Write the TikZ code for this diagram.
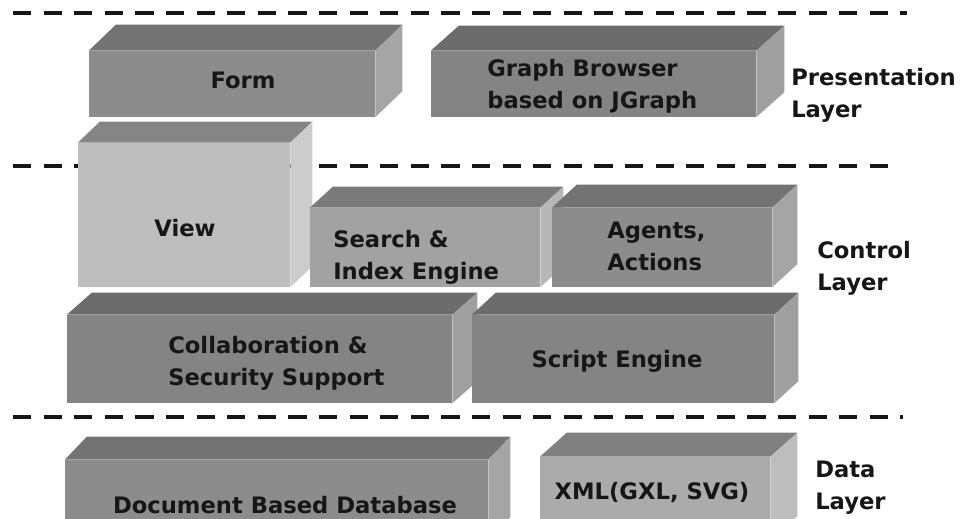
\documentclass[tikz,border=0pt]{standalone}
\usepackage{fontspec}
\setmainfont{DejaVu Sans}
\usetikzlibrary{fit}
\definecolor{ink}{RGB}{22,22,22}
\definecolor{slabgray}{RGB}{140,140,140}
\definecolor{darkslab}{RGB}{132,132,132}
\definecolor{searchgray}{RGB}{162,162,162}
\definecolor{xmlgray}{RGB}{171,171,171}
\definecolor{viewgray}{RGB}{190,190,190}

\begin{document}
\begin{tikzpicture}[x=0.75pt, y=-0.75pt,
    face/.style={rectangle, inner sep=0pt, draw=none},
    boxtext/.style={font=\fontsize{17}{24}\selectfont\bfseries, text=ink, align=left, inner sep=0pt},
    layertext/.style={boxtext, anchor=west},
    divider/.style={draw=ink, line width=2.5pt, dash pattern=on 13.7pt off 9.25pt}
]
\useasboundingbox (0,0) rectangle (974,518);
\clip (0,0) rectangle (974,518);

% Layer dividers
\coordinate (top1) at (13,13);   \coordinate (top2) at (907,13);
\coordinate (mid1) at (13,166);  \coordinate (mid2) at (888,166);
\coordinate (low1) at (13,417);  \coordinate (low2) at (903,417);
\draw[divider] (top1) -- (top2);
\draw[divider] (mid1) -- (mid2);
\draw[divider] (low1) -- (low2);

% Slabs: front face, then top and side
\foreach \b/\xa/\ya/\xb/\yb/\dx/\dy/\c/\t in {
    form/89/51/375/117/27/26/slabgray/82,
    graph/431/51/756/117/28/25/darkslab/82,
    view/78/143/290/287/22/21/viewgray/70,
    search/310/208/540/287/23/21/searchgray/76,
    agents/552/208/772/287/25/23/slabgray/82,
    collab/67/315/452/403/25/22/darkslab/82,
    script/472/315/774/403/24/22/darkslab/82,
    docdb/65/460/488/540/22/23/slabgray/82,
    xml/540/457/770/540/27/24/xmlgray/75} {
  \node[face, fill=\c, fit={(\xa,\ya) (\xb,\yb)}] (\b) {};
  \fill[\c!\t!black] (\b.north west) -- ++(\dx,-\dy) -- ([shift={(\dx,-\dy)}]\b.north east) -- (\b.north east) -- cycle;
  \fill[\c!78!white] (\b.north east) -- ++(\dx,-\dy) -- ([shift={(\dx,-\dy)}]\b.south east) -- (\b.south east) -- cycle;
}

% Presentation layer
\node[boxtext] (formtxt) at (243,80) {Form};
\node[boxtext, anchor=west] (graphtxt) at (487,86) {Graph Browser\\based on JGraph};
\node[layertext] (presentation) at (791,95) {Presentation\\Layer};

% Control layer
\node[boxtext] (viewtxt) at (185,228) {View};
\node[boxtext, anchor=west] (searchtxt) at (333,257) {Search \&\\Index Engine};
\node[boxtext, anchor=west] (agentstxt) at (607,246) {Agents,\\Actions};
\node[boxtext, anchor=west] (collabtxt) at (168,363) {Collaboration \&\\Security Support};
\node[boxtext] (scripttxt) at (617,361) {Script Engine};
\node[layertext] (control) at (817,268) {Control\\Layer};

% Data layer
\node[boxtext] (docdbtxt) at (285,505) {Document Based Database};
\node[boxtext] (xmltxt) at (652,493) {XML(GXL, SVG)};
\node[layertext] (data) at (815,488) {Data\\Layer};

\end{tikzpicture}
\end{document}
